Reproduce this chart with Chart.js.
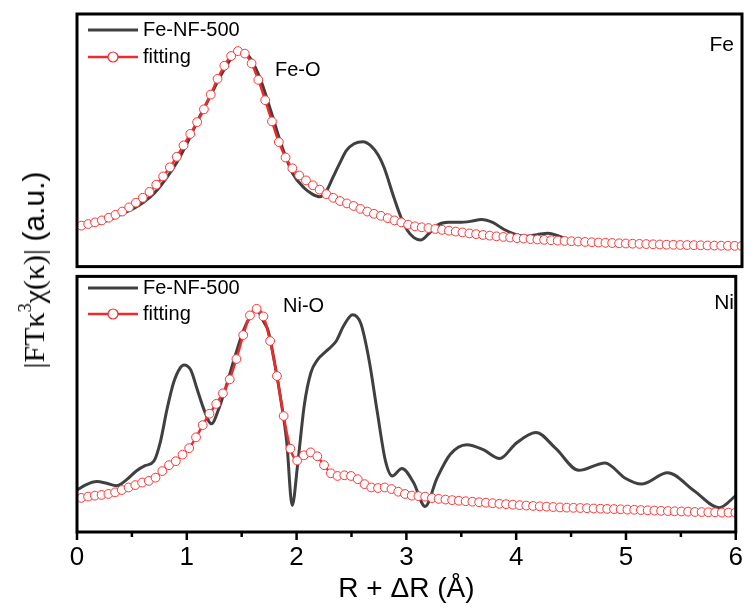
<!DOCTYPE html>
<html>
<head>
<meta charset="utf-8">
<script src="https://cdn.jsdelivr.net/npm/chart.js@4.4.1/dist/chart.umd.min.js"></script>
<style>
    body { margin: 0; background: #fff; }
    #wrap { position: relative; width: 753px; height: 610px; overflow: hidden; background: #fff; }
    #topChart { position: absolute; left: 0; top: 0; }
    #botChart { position: absolute; left: 0; top: 271px; }
    #ytitle {
        position: absolute; left: 34px; top: 270px;
        transform: translate(-50%, -50%) rotate(-90deg);
        white-space: nowrap; font-size: 30px; color: #000;
    }
    #ytitle sup { font-size: 0.6em; vertical-align: 0.7em; line-height: 0; }
    .serif { font-family: "Liberation Serif", "DejaVu Serif", serif; }
    .sans { font-family: "Liberation Sans", Arial, sans-serif; }
</style>
</head>
<body>
<div id="wrap">
    <canvas id="topChart" width="753" height="272"></canvas>
    <canvas id="botChart" width="753" height="339"></canvas>
    <div id="ytitle"><span class="serif">|FTκ<sup>3</sup>χ(κ)|</span> <span class="sans">(a.u.)</span></div>
</div>
<script>
// R grid of the fitted curve (Å)
const fitR = [0.040, 0.101, 0.163, 0.224, 0.286, 0.347, 0.408, 0.470, 0.531, 0.593,
    0.654, 0.715, 0.777, 0.838, 0.900, 0.961, 1.022, 1.084, 1.145, 1.207,
    1.268, 1.329, 1.391, 1.452, 1.514, 1.575, 1.636, 1.698, 1.759, 1.821,
    1.882, 1.943, 2.005, 2.066, 2.128, 2.189, 2.250, 2.312, 2.373, 2.435,
    2.496, 2.557, 2.619, 2.680, 2.742, 2.803, 2.864, 2.926, 2.987, 3.049,
    3.110, 3.171, 3.233, 3.294, 3.356, 3.417, 3.478, 3.540, 3.601, 3.663,
    3.724, 3.785, 3.847, 3.908, 3.970, 4.031, 4.092, 4.154, 4.215, 4.277,
    4.338, 4.399, 4.461, 4.522, 4.584, 4.645, 4.706, 4.768, 4.829, 4.891,
    4.952, 5.013, 5.075, 5.136, 5.198, 5.259, 5.320, 5.382, 5.443, 5.505,
    5.566, 5.627, 5.689, 5.750, 5.812, 5.873, 5.934, 5.996];

// Fe K-edge panel
const feFit = [41.7, 43.3, 45, 47, 49.7, 52.7, 56, 60.3, 65, 70,
    76, 83.3, 91.7, 101, 111.7, 123.3, 135, 147, 160, 175,
    191, 204.3, 214.3, 219.3, 216.7, 206.7, 190, 169.3, 147.7, 126.7,
    111, 100, 92.7, 87.7, 82.7, 78.3, 73.7, 70, 66.7, 64.3,
    61.7, 58.7, 56, 53.7, 51.7, 49.3, 47, 45, 42.7, 41,
    40, 39.2, 38.3, 37.4, 36.5, 35.6, 34.8, 33.8, 33, 32.2,
    31.5, 30.8, 30.2, 29.6, 29, 28.5, 28, 27.6, 27.2, 26.8,
    26.4, 26.1, 25.8, 25.5, 25.1, 24.8, 24.5, 24.2, 24, 23.7,
    23.5, 23.3, 23.1, 22.9, 22.7, 22.5, 22.3, 22.2, 22, 21.9,
    21.8, 21.7, 21.5, 21.4, 21.3, 21.2, 21.1, 21];
const feR = [0, 0.1, 0.2, 0.3, 0.4, 0.5, 0.6, 0.7, 0.8, 0.9,
    1.0, 1.1, 1.2, 1.3, 1.4, 1.47, 1.55, 1.65, 1.75, 1.85,
    1.95, 2.05, 2.12, 2.19, 2.25, 2.31, 2.37, 2.43, 2.5, 2.58,
    2.65, 2.72, 2.77, 2.86, 2.92, 2.98, 3.04, 3.1, 3.17, 3.25,
    3.35, 3.45, 3.55, 3.65, 3.75, 3.85, 3.95, 4.05, 4.15, 4.25,
    4.35, 4.45, 4.6, 4.8, 5.0, 5.3, 5.6, 6.0];
const feExp = [40, 41.5, 44, 48, 53.5, 58.5, 65.5, 75, 89, 106,
    127, 151, 173, 195, 213, 219, 214, 192, 158, 122,
    94, 80, 74, 71, 77, 91, 105, 118, 125, 127,
    123, 113, 101, 70, 51, 37, 29.5, 27, 33, 42,
    45, 45, 46, 48, 45, 38, 33, 31, 32.5, 34,
    31, 27, 25, 24, 23.3, 22.3, 21.7, 21];

// Ni K-edge panel
const niFit = [34.7, 36, 37, 37.7, 38.7, 40.3, 42.7, 45.3, 47.7, 50.3,
    52, 55.3, 62, 68, 72, 78.7, 85.3, 96.3, 108.7, 120.3,
    130.3, 141, 155.3, 176, 200.3, 220.3, 227, 219.3, 194.3, 158.7,
    118, 84.7, 72.7, 78, 81, 77, 68, 59.7, 57, 57.7,
    57, 53.7, 48.7, 45.3, 44.7, 45.3, 43.7, 41, 38.7, 37,
    36.5, 36, 34.5, 33.7, 33, 32.4, 31.8, 31.3, 30.8, 30.3,
    29.8, 29.3, 28.7, 28.3, 27.8, 27.3, 26.9, 26.5, 26.1, 25.8,
    25.4, 25, 24.8, 24.6, 24.4, 24.2, 23.9, 23.7, 23.5, 23.3,
    23.1, 22.8, 22.6, 22.3, 22.1, 21.8, 21.5, 21.3, 21.1, 20.9,
    20.7, 20.4, 20.3, 20.1, 20, 19.8, 19.7, 19.6];
const niR = [0, 0.08, 0.18, 0.27, 0.36, 0.45, 0.54, 0.62, 0.7, 0.76,
    0.82, 0.88, 0.94, 0.975, 1.035, 1.095, 1.155, 1.225, 1.29, 1.35,
    1.44, 1.516, 1.576, 1.62, 1.66, 1.7, 1.74, 1.8, 1.86, 1.91,
    1.96, 2.01, 2.07, 2.13, 2.19, 2.28, 2.36, 2.43, 2.51, 2.585,
    2.66, 2.735, 2.81, 2.87, 2.96, 3.065, 3.17, 3.28, 3.4, 3.55,
    3.7, 3.85, 4.0, 4.18, 4.36, 4.57, 4.81, 4.99, 5.14, 5.38,
    5.62, 5.85, 6.0];
const niExp = [42.7, 48, 51.3, 49.5, 47, 53, 62, 67.5, 72, 92,
    125, 152, 167, 170, 165, 145, 125, 110, 125, 145,
    179, 205, 219, 225, 223, 214, 205, 172, 132, 92,
    27, 69, 129, 162, 175, 185, 194, 210, 221, 212,
    175, 122, 72, 57, 64.7, 50.3, 26, 55, 79, 88.7,
    83.7, 74.7, 90.3, 101.3, 85, 62.7, 70.3, 55, 48.7, 60.3,
    42, 24.7, 37];

const xTicks = [0, 1, 2, 3, 4, 5, 6];
const seriesNames = ["Fe-NF-500", "fitting"];

const GRAY = "#404040";
const RED = "#f02a2a";
const SANS = "'Liberation Sans', Arial, sans-serif";
const NARROW = "'Liberation Sans Narrow', 'Liberation Sans', Arial, sans-serif";

const toPoints = (xs, ys) => xs.map((x, i) => ({ x, y: ys[i] }));

// frame, in-panel legend, labels and x tick marks
const panelDecor = {
    id: "panelDecor",
    afterDraw(chart, args, o) {
        const { ctx, chartArea: a } = chart;
        ctx.save();
        ctx.strokeStyle = "#000";
        ctx.lineWidth = 3;
        ctx.strokeRect(a.left, a.top, a.right - a.left, a.bottom - a.top);

        if (o.ticks) {
            const xs = chart.scales.x;
            ctx.lineWidth = 2.5;
            for (let v = 0; v <= 6; v += 0.5) {
                const px = xs.getPixelForValue(v);
                ctx.beginPath();
                ctx.moveTo(px, a.bottom);
                ctx.lineTo(px, a.bottom + (v % 1 === 0 ? 8 : 5));
                ctx.stroke();
            }
        }

        // legend
        ctx.lineWidth = 3;
        ctx.strokeStyle = GRAY;
        ctx.beginPath();
        ctx.moveTo(88, o.leg1); ctx.lineTo(138, o.leg1);
        ctx.stroke();
        ctx.lineWidth = 2.5;
        ctx.strokeStyle = RED;
        ctx.beginPath();
        ctx.moveTo(88, o.leg2); ctx.lineTo(138, o.leg2);
        ctx.stroke();
        ctx.beginPath();
        ctx.arc(113, o.leg2, 5, 0, Math.PI * 2);
        ctx.fillStyle = "#fff";
        ctx.fill();
        ctx.lineWidth = 1.2;
        ctx.stroke();

        ctx.fillStyle = "#000";
        ctx.font = "20px " + SANS;
        ctx.textBaseline = "middle";
        ctx.textAlign = "left";
        ctx.fillText(seriesNames[0], 143, o.leg1);
        ctx.fillText(seriesNames[1], 143, o.leg2);
        ctx.fillText(o.bond, o.bondX, o.bondY);
        ctx.font = "21px " + SANS;
        ctx.textAlign = "right";
        ctx.fillText(o.elem, 734, o.elemY);
        ctx.restore();
    }
};

function makePanel(canvas, expR, expVals, fitVals, yMax, showX, decor) {
    return new Chart(canvas, {
        type: "line",
        data: {
            datasets: [
                {
                    label: seriesNames[1],
                    data: toPoints(fitR, fitVals),
                    borderColor: RED,
                    borderWidth: 2.5,
                    pointRadius: 4.4,
                    pointBorderWidth: 1,
                    pointBorderColor: "#ff3535",
                    pointBackgroundColor: "#fff",
                    cubicInterpolationMode: "monotone",
                    order: 0,
                },
                {
                    label: seriesNames[0],
                    data: toPoints(expR, expVals),
                    borderColor: GRAY,
                    borderWidth: 3,
                    pointRadius: 0,
                    cubicInterpolationMode: "monotone",
                    order: 1,
                }
            ]
        },
        options: {
            responsive: false,
            animation: false,
            events: [],
            layout: { padding: showX
                ? { left: 77, right: 11, top: 1, bottom: 0 }
                : { left: 77, right: 11, top: 14, bottom: 1 } },
            plugins: {
                legend: { display: false },
                tooltip: { enabled: false },
                panelDecor: decor,
            },
            scales: {
                x: {
                    type: "linear",
                    min: 0,
                    max: 6,
                    display: showX,
                    afterBuildTicks: s => { s.ticks = xTicks.map(v => ({ value: v })); },
                    afterFit: s => { if (showX) s.height = 78; },
                    grid: { display: false, drawTicks: false },
                    border: { display: false },
                    ticks: { padding: 10, color: "#000", font: { family: NARROW, size: 26 } },
                    title: {
                        display: true,
                        text: "R + ΔR (Å)",
                        color: "#000",
                        font: { family: NARROW, size: 28 },
                        padding: { top: 0, bottom: 4 }
                    }
                },
                y: { min: 0, max: yMax, display: false }
            }
        },
        plugins: [panelDecor]
    });
}

makePanel(document.getElementById("topChart"), feR, feExp, feFit, 257, false,
    { ticks: false, leg1: 30, leg2: 57, bond: "Fe-O", bondX: 275, bondY: 70, elem: "Fe", elemY: 45 });
makePanel(document.getElementById("botChart"), niR, niExp, niFit, 260, true,
    { ticks: true, leg1: 17, leg2: 43, bond: "Ni-O", bondX: 283, bondY: 35, elem: "Ni", elemY: 32 });
</script>
</body>
</html>
